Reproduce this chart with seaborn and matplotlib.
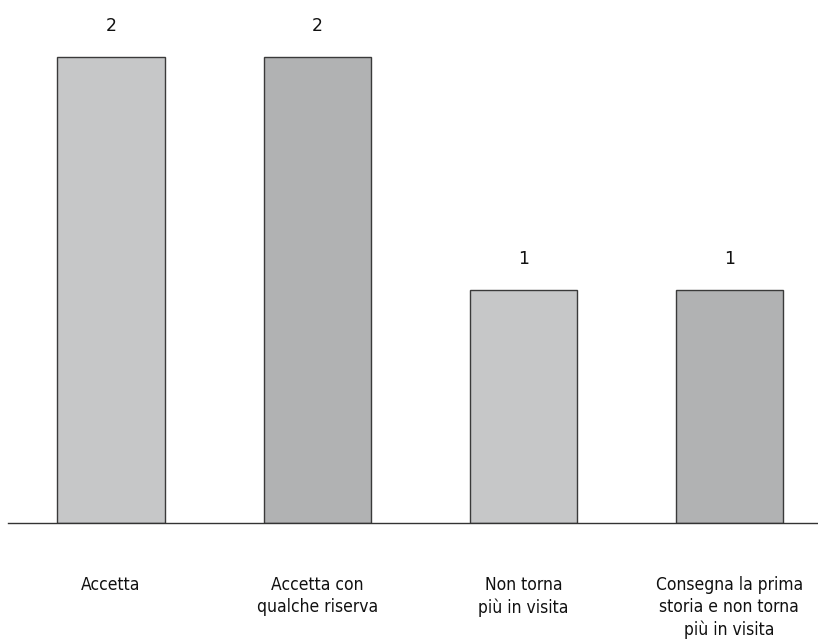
import matplotlib
matplotlib.use("Agg")
import matplotlib.pyplot as plt
import seaborn as sns
import pandas as pd

categories = ["Accetta", "Accetta con\nqualche riserva", "Non torna\npiù in visita",
              "Consegna la prima\nstoria e non torna\npiù in visita"]
values = [2, 2, 1, 1]
colors = ["#c6c7c8", "#b1b2b3", "#c6c7c8", "#b1b2b3"]

sns.set_style("white")
plt.rcParams["font.family"] = ["DejaVu Sans"]

df = pd.DataFrame({"cat": categories, "val": values})

W, H = 818, 644
fig = plt.figure(figsize=(W / 100, H / 100), dpi=100)
left_px, right_px, bottom_px, top_px = 8, 818, 523, 0
ax = fig.add_axes([left_px / W, (H - bottom_px) / H,
                   (right_px - left_px) / W, (bottom_px - top_px) / H])

sns.barplot(data=df, x="cat", y="val", hue="cat", palette=colors, legend=False,
            width=0.52, edgecolor="#3a3a3a", linewidth=1.0, ax=ax)

ax.set_xlim(-0.5, 3.43)
ax.set_ylim(0, 2.245)
for s in ["top", "right", "left"]:
    ax.spines[s].set_visible(False)
ax.spines["bottom"].set_color("#333333")
ax.spines["bottom"].set_linewidth(1.0)
ax.set_xticks([])
ax.set_yticks([])
ax.set_xlabel("")
ax.set_ylabel("")

# value labels above bars
for i, v in enumerate(values):
    ax.annotate(str(v), (i, v), xytext=(0, 16), textcoords="offset points",
                ha="center", va="bottom", fontsize=12.5, color="#111111")

# category labels below the baseline
for i, c in enumerate(categories):
    ax.annotate(c, (i, 0), xytext=(0, -38), textcoords="offset points",
                ha="center", va="top", fontsize=12.5, color="#111111",
                fontstretch="condensed", fontweight="light",
                linespacing=1.3)

fig.savefig("out.png", dpi=100)
